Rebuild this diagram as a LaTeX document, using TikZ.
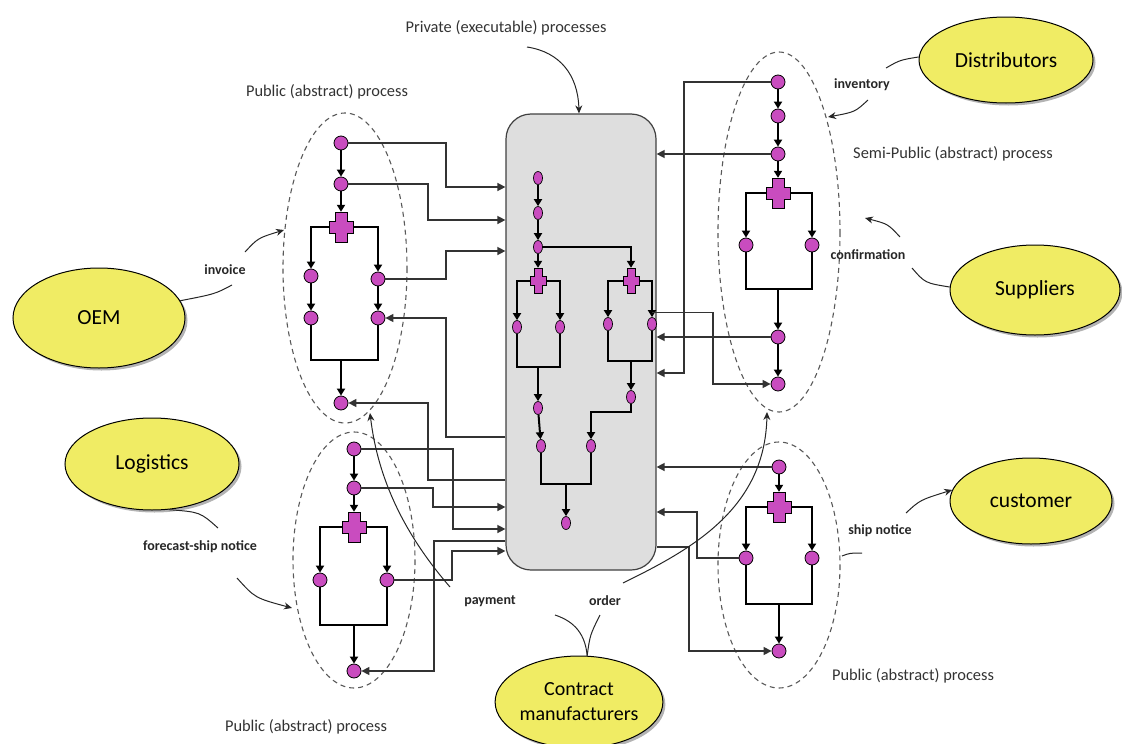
\documentclass[tikz,border=0pt]{standalone}
\usepackage{fontspec}
\setmainfont{Carlito}
\usetikzlibrary{shapes.geometric,arrows.meta,shadows,calc}
\definecolor{mag}{HTML}{C94CBF}
\definecolor{yel}{HTML}{F0EC64}
\definecolor{boxg}{HTML}{DEDEDE}
\definecolor{lineg}{HTML}{333333}
\begin{document}
\begin{tikzpicture}[x=1pt,y=-1pt,
 pn/.style={circle,draw=black,fill=mag,minimum size=14pt,inner sep=0pt,line width=0.8pt},
 cn/.style={ellipse,draw=black,fill=mag,minimum width=9pt,minimum height=13pt,inner sep=0pt,line width=0.7pt},
 gwn/.style={rectangle,minimum width=24pt,minimum height=30pt,inner sep=0pt},
 gwc/.style={rectangle,minimum width=16pt,minimum height=26pt,inner sep=0pt},
 flow/.style={line width=2pt,-{Triangle[length=7pt,width=8pt]}},
 flown/.style={line width=2pt},
 conn/.style={line width=1.4pt,draw=lineg,-{Triangle[length=8pt,width=8pt]}},
 bound/.style={draw=black!65,line width=1.1pt,dash pattern=on 5pt off 4pt},
 party/.style={ellipse,draw=black,fill=yel,line width=1pt,inner sep=0pt,font=\fontsize{21.5}{25}\selectfont,drop shadow={shadow xshift=2.5pt,shadow yshift=-2.5pt,fill=black!50,opacity=0.6}},
 captxt/.style={font=\fontsize{16.4}{19}\selectfont,text=black!80},
 labtxt/.style={font=\bfseries\fontsize{14}{16}\selectfont,text=black!85},
 lcurve/.style={line width=1pt,draw=black!85},
 lcarrow/.style={line width=1pt,draw=black!85,-{Stealth[length=8pt,width=7pt]}},
 gate/.pic={\draw[fill=mag,line width=0.8pt] (-6,-15) -- (6,-15) -- (6,-6) -- (12,-6) -- (12,6) -- (6,6) -- (6,15) -- (-6,15) -- (-6,6) -- (-12,6) -- (-12,-6) -- (-6,-6) -- cycle;},
 gatec/.pic={\draw[fill=mag,line width=0.7pt] (-4,-12.5) -- (4,-12.5) -- (4,-4.5) -- (8,-4.5) -- (8,4.5) -- (4,4.5) -- (4,12.5) -- (-4,12.5) -- (-4,4.5) -- (-8,4.5) -- (-8,-4.5) -- (-4,-4.5) -- cycle;}
]
\useasboundingbox (0,0) rectangle (1122,744);

% process boundaries
\draw[bound] (345,268) ellipse [x radius=62, y radius=155];
\draw[bound] (354,560) ellipse [x radius=61, y radius=128];
\draw[bound] (779,232) ellipse [x radius=61, y radius=180];
\draw[bound] (779,565) ellipse [x radius=61, y radius=123];

% parties
\node[party,minimum width=172pt,minimum height=100pt] (oem) at (99,318) {OEM};
\node[party,minimum width=174pt,minimum height=92pt] (logi) at (152,464) {Logistics};
\node[party,minimum width=174pt,minimum height=86pt] (dist) at (1006,60) {Distributors};
\node[party,minimum width=170pt,minimum height=90pt] (supp) at (1035,290) {Suppliers};
\node[party,minimum width=162pt,minimum height=86pt] (cust) at (1031,501) {customer};
\node[party,minimum width=152pt,minimum height=92pt,align=center,font=\fontsize{20}{25}\selectfont] (cm) at (579,702) {Contract\\manufacturers};

% private process box
\node[draw=black!75,fill=boxg,rounded corners=25pt,minimum width=150pt,minimum height=456pt,line width=1.2pt] (box) at (581,342) {};

% captions
\node[captxt] (tPriv) at (506,28) {Private (executable) processes};
\node[captxt] (tTL) at (327,92) {Public (abstract) process};
\node[captxt] (tTR) at (953,154) {Semi-Public (abstract) process};
\node[captxt] (tBR) at (913,676) {Public (abstract) process};
\node[captxt] (tBL) at (306,727) {Public (abstract) process};
\node[labtxt] (lInv) at (225,270) {invoice};
\node[labtxt] (lFor) at (200,547) {forecast-ship notice};
\node[labtxt] (lPay) at (490,601) {payment};
\node[labtxt] (lOrd) at (605,601) {order};
\node[labtxt] (lInvt) at (862,85) {inventory};
\node[labtxt] (lConf) at (868,255) {confirmation};
\node[labtxt] (lShip) at (880,531) {ship notice};

% top-left public process
\node[pn] (a1) at (341,143) {};
\node[pn] (a2) at (341,184) {};
\node[gwn] (ag) at (341,227) {};
\node[pn] (a3) at (311,276) {};
\node[pn] (a4) at (311,318) {};
\node[pn] (a5) at (378,279) {};
\node[pn] (a6) at (378,318) {};
\node[pn] (a7) at (341,403) {};
% bottom-left public process
\node[pn] (b1) at (354,449) {};
\node[pn] (b2) at (354,488) {};
\node[gwn] (bg) at (354,527) {};
\node[pn] (b3) at (320,580) {};
\node[pn] (b5) at (387,580) {};
\node[pn] (b7) at (354,671) {};
% private process
\node[cn] (c1) at (538,178) {};
\node[cn] (c2) at (538,213) {};
\node[cn] (c3) at (538,247) {};
\node[gwc] (cg1) at (538,281) {};
\node[cn] (c4) at (517,327) {};
\node[cn] (c5) at (560,327) {};
\node[cn] (c6) at (538,408) {};
\node[cn] (c7) at (541,446) {};
\node[gwc] (cg2) at (631,281) {};
\node[cn] (c8) at (608,324) {};
\node[cn] (c9) at (652,324) {};
\node[cn] (c10) at (631,397) {};
\node[cn] (c11) at (591,446) {};
\node[cn] (c12) at (566,523) {};
% semi-public process
\node[pn] (s1) at (778,82) {};
\node[pn] (s2) at (778,116) {};
\node[pn] (s3) at (778,154) {};
\node[gwn] (sg) at (778,193) {};
\node[pn] (s4) at (746,245) {};
\node[pn] (s5) at (812,245) {};
\node[pn] (s6) at (778,337) {};
\node[pn] (s7) at (778,384) {};
% customer public process
\node[pn] (p1) at (779,467) {};
\node[gwn] (pg) at (779,507) {};
\node[pn] (p2) at (746,558) {};
\node[pn] (p3) at (812,558) {};
\node[pn] (p4) at (779,651) {};

% flows top-left
\draw[flow] (a1) -- (a2);
\draw[flow] (a2) -- (ag);
\draw[flow] (ag) -| (a3);
\draw[flow] (ag) -| (a5);
\draw[flow] (a3) -- (a4);
\draw[flow] (a5) -- (a6);
\draw[flown] (a4) |- (a6 |- 0,360) -- (a6);
\draw[flow] (ag |- 0,360) -- (a7);
% flows bottom-left
\draw[flow] (b1) -- (b2);
\draw[flow] (b2) -- (bg);
\draw[flow] (bg) -| (b3);
\draw[flow] (bg) -| (b5);
\draw[flown] (b3) |- (b5 |- 0,625) -- (b5);
\draw[flow] (bg |- 0,625) -- (b7);
% flows private
\draw[flow] (c1) -- (c2);
\draw[flow] (c2) -- (c3);
\draw[flow] (c3) -- (cg1);
\draw[flow] (c3) -| (cg2);
\draw[flow] (cg1) -| (c4);
\draw[flow] (cg1) -| (c5);
\draw[flown] (c4) |- (c5 |- 0,367) -- (c5);
\draw[flow] (cg1 |- 0,367) -- (c6);
\draw[flow] (c6) -- (c7);
\draw[flow] (cg2) -| (c8);
\draw[flow] (cg2) -| (c9);
\draw[flown] (c8) |- (c9 |- 0,361) -- (c9);
\draw[flow] (cg2 |- 0,361) -- (c10);
\draw[flow] (c10) |- (c11 |- 0,412) -- (c11);
\draw[flown] (c7) |- (c11 |- 0,484) -- (c11);
\draw[flow] (c12 |- 0,484) -- (c12);
% flows semi-public
\draw[flow] (s1) -- (s2);
\draw[flow] (s2) -- (s3);
\draw[flow] (s3) -- (sg);
\draw[flow] (sg) -| (s4);
\draw[flow] (sg) -| (s5);
\draw[flown] (s4) |- (s5 |- 0,289) -- (s5);
\draw[flow] (sg |- 0,289) -- (s6);
\draw[flow] (s6) -- (s7);
% flows customer
\draw[flow] (p1) -- (pg);
\draw[flow] (pg) -| (p2);
\draw[flow] (pg) -| (p3);
\draw[flown] (p2) |- (p3 |- 0,604) -- (p3);
\draw[flow] (pg |- 0,604) -- (p4);

% message connectors
\draw[conn] (a1) -| (446,187) -- (box.west |- 0,187);
\draw[conn] (a2) -| (428,220) -- (box.west |- 0,220);
\draw[conn] (a5) -| (446,251) -- (box.west |- 0,251);
\draw[conn] (box.west |- 0,437) -| (446,318) -- (a6);
\draw[conn] (box.west |- 0,480) -| (428,403) -- (a7);
\draw[conn] (b1) -| (453,529) -- (box.west |- 0,529);
\draw[conn] (b2) -| (433,507) -- (box.west |- 0,507);
\draw[conn] (b5) -| (452,551) -- (box.west |- 0,551);
\draw[conn] (box.west |- 0,541) -| (434,671) -- (b7);
\draw[conn] (s1) -| (684,373) -- (box.east |- 0,373);
\draw[conn] (s3) -- (box.east |- s3);
\draw[conn] (s6) -- (box.east |- s6);
\draw[conn] ($(c9.north)+(0,-4.5)$) -| (713,384) -- (s7);
\draw[conn] (p1) -- (box.east |- p1);
\draw[conn] (p2) -| (697,512) -- (box.east |- 0,512);
\draw[conn] (box.east |- 0,547) -| (689,651) -- (p4);

% gateways
\pic at (ag) {gate};
\pic at (bg) {gate};
\pic at (sg) {gate};
\pic at (pg) {gate};
\pic at (cg1) {gatec};
\pic at (cg2) {gatec};

% label curves
\draw[lcarrow] (527,47) .. controls (560,52) and (578,75) .. (box.north -| 579,0);
\draw[lcurve] (oem.12) .. controls (215,294) .. (232,285);
\draw[lcarrow] (245,252) .. controls (258,238) .. (284,230);
\draw[lcurve] (logi.-70) .. controls (200,512) .. (218,528);
\draw[lcarrow] (237,578) .. controls (255,598) .. (292,608);
\draw[lcurve] (dist.178) .. controls (900,60) .. (886,68);
\draw[lcarrow] (868,100) .. controls (855,112) .. (828,117);
\draw[lcarrow] (900,237) .. controls (888,224) .. (865,218);
\draw[lcurve] (912,268) .. controls (925,283) .. (supp.178);
\draw[lcurve] (842,556) .. controls (850,553) .. (862,553);
\draw[lcarrow] (906,513) .. controls (920,500) .. (cust.172);
\draw[lcarrow] (450,587) .. controls (405,535) and (378,480) .. (370,413);
\draw[lcurve] (cm.80) .. controls (585,630) and (570,620) .. (555,615);
\draw[lcurve] (cm.80) .. controls (590,635) .. (600,615);
\draw[lcarrow] (623,583) .. controls (690,550) and (765,510) .. (767,412);
\end{tikzpicture}
\end{document}
